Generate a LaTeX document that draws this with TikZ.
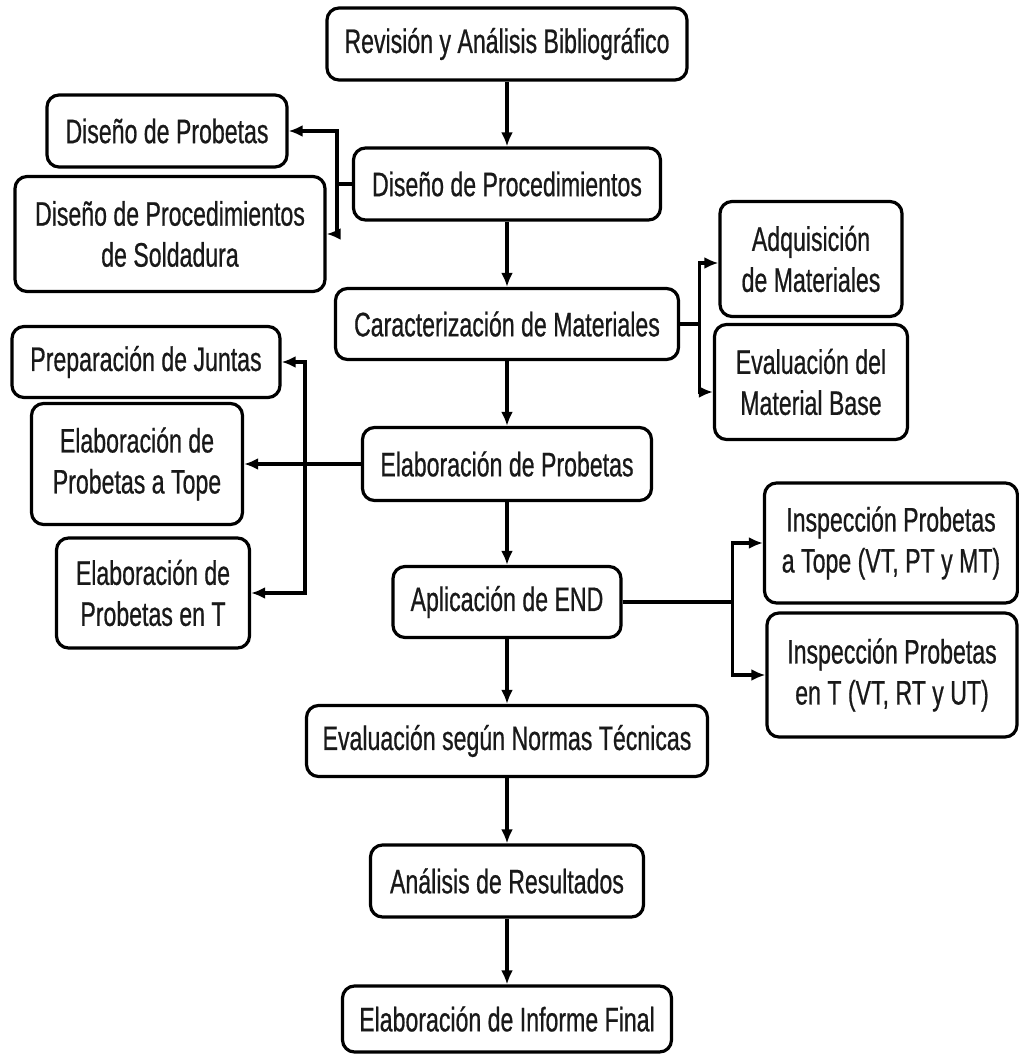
\documentclass[tikz,border=0pt]{standalone}
\usepackage{fontspec}
\setmainfont[FakeStretch=0.68,FakeBold=0.6]{Liberation Sans}
\usetikzlibrary{arrows.meta}
\begin{document}
\begin{tikzpicture}[x=1pt,y=1pt]
			% Estilos
			\tikzstyle{flecha}=[->,>={Latex[length=14pt,width=12pt]},line width=3.2pt]
			\tikzstyle{caja}=[draw,line width=3.2pt,rounded corners=12pt,fill=white,align=center,inner sep=3pt,font=\fontsize{34}{41}\selectfont,text=black!90]
			% Dimensiones
			\def\Centro{507}
			\def\Ancho{1019}
			\def\Alto{1054}
			\useasboundingbox (0,0) rectangle (\Ancho,-\Alto);
			% Nodos (columna central)
			\node[caja,minimum width=360pt,minimum height=72pt] (Rev) at (\Centro,-44) {Revisión y Análisis Bibliográfico};
			\node[caja,minimum width=307pt,minimum height=72pt] (DisProc) at (\Centro,-184) {Diseño de Procedimientos};
			\node[caja,minimum width=343pt,minimum height=71pt] (Car) at (\Centro,-324) {Caracterización de Materiales};
			\node[caja,minimum width=289pt,minimum height=73pt] (Elab) at (\Centro,-464) {Elaboración de Probetas};
			\node[caja,minimum width=228pt,minimum height=71pt] (End) at (\Centro,-602) {Aplicación de END};
			\node[caja,minimum width=401pt,minimum height=71pt] (EvalN) at (\Centro,-741) {Evaluación según Normas Técnicas};
			\node[caja,minimum width=273pt,minimum height=72pt] (Anal) at (\Centro,-881) {Análisis de Resultados};
			\node[caja,minimum width=329pt,minimum height=66pt] (Inf) at (\Centro,-1019) {Elaboración de Informe Final};
			% Nodos (ramas)
			\node[caja,minimum width=240pt,minimum height=72pt] (DisProb) at (167,-131) {Diseño de Probetas};
			\node[caja,minimum width=310pt,minimum height=115pt] (DisSold) at (170,-234) {Diseño de Procedimientos\\de Soldadura};
			\node[caja,minimum width=268pt,minimum height=71pt] (Junt) at (146,-362) {Preparación de Juntas};
			\node[caja,minimum width=211pt,minimum height=121pt] (Tope) at (137,-464) {Elaboración de\\Probetas a Tope};
			\node[caja,minimum width=193pt,minimum height=110pt] (EnT) at (153,-593) {Elaboración de\\Probetas en T};
			\node[caja,minimum width=182pt,minimum height=115pt] (Adq) at (811,-259) {Adquisición\\de Materiales};
			\node[caja,minimum width=193pt,minimum height=115pt] (EvaMat) at (811,-382) {Evaluación del\\Material Base};
			\node[caja,minimum width=253pt,minimum height=120pt] (InspA) at (891,-543) {Inspección Probetas\\a Tope (VT, PT y MT)};
			\node[caja,minimum width=250pt,minimum height=124pt] (InspB) at (892,-675) {Inspección Probetas\\en T (VT, RT y UT)};
			\coordinate (bifE) at (305,-464);
			% Flechas
			\draw[flecha] (Rev)--(DisProc);
			\draw[flecha] (DisProc)--(Car);
			\draw[flecha] (Car)--(Elab);
			\draw[flecha] (Elab)--(End);
			\draw[flecha] (End)--(EvalN);
			\draw[flecha] (EvalN)--(Anal);
			\draw[flecha] (Anal)--(Inf);
			\draw[flecha] (DisProc.west)--++(-15,0) |- (DisProb.east);
			\draw[flecha] (DisProc.west)--++(-15,0) |- (DisSold.east);
			\draw[flecha] (Car.east)--++(19,0) |- ([yshift=-4pt]Adq.west);
			\draw[flecha] (Car.east)--++(19,0) |- ([yshift=-10pt]EvaMat.west);
			\draw[flecha] (Elab.west)--(Tope.east);
			\draw[flecha] (bifE) |- (Junt.east);
			\draw[flecha] (bifE) |- (EnT.east);
			\draw[flecha] (End.east)--++(110,0) |- (InspA.west);
			\draw[flecha] (End.east)--++(110,0) |- (InspB.west);
		\end{tikzpicture}
\end{document}
